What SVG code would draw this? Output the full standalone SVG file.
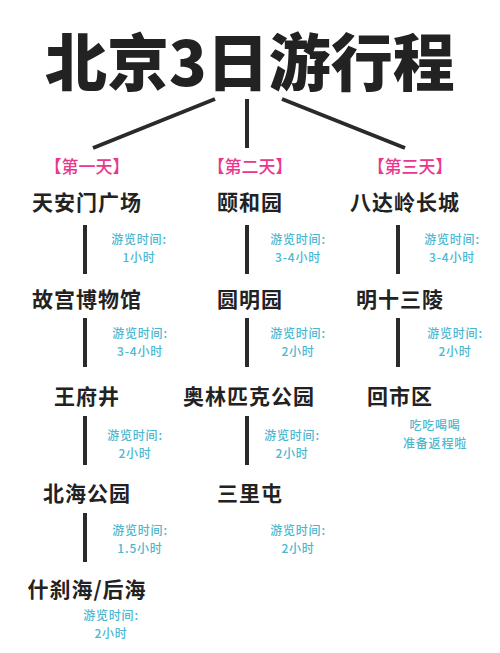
<svg xmlns="http://www.w3.org/2000/svg" width="500" height="653" viewBox="0 0 500 653">
<style>
text{font-family:"Noto Sans CJK SC","Noto Sans",sans-serif;text-anchor:middle;dominant-baseline:central}
.title{font-size:62px;font-weight:900;fill:#222}
.day{font-size:17px;fill:#e8378d;font-weight:500}
.node{font-size:21px;font-weight:700;fill:#222;letter-spacing:1px}
.t{font-size:12px;fill:#4cb8d0;font-weight:500;letter-spacing:0.8px}
.c line{stroke:#2a2a2a;stroke-width:4}
</style>
<rect width="500" height="653" fill="#fff"/>
<g id="title"><text class="title" x="250" y="59">北京3日游行程</text></g>
<g id="connectors" class="c">
<line x1="215" y1="99" x2="93" y2="148"/>
<line x1="247" y1="99" x2="247" y2="148"/>
<line x1="282" y1="99" x2="405" y2="148"/>
<line x1="85" y1="225" x2="85" y2="274"/>
<line x1="85" y1="318" x2="85" y2="367"/>
<line x1="85" y1="416" x2="85" y2="465"/>
<line x1="85" y1="513" x2="85" y2="562"/>
<line x1="247" y1="225" x2="247" y2="274"/>
<line x1="247" y1="318" x2="247" y2="367"/>
<line x1="247" y1="416" x2="247" y2="465"/>
<line x1="398" y1="225" x2="398" y2="274"/>
<line x1="398" y1="318" x2="398" y2="367"/>
</g>
<g id="day1"><text class="day" x="87" y="165">【第一天】</text></g>
<g id="day2"><text class="day" x="250" y="165">【第二天】</text></g>
<g id="day3"><text class="day" x="410" y="165">【第三天】</text></g>
<g id="n1"><text class="node" x="87" y="201">天安门广场</text></g>
<g id="t1"><text class="t" x="139" y="238">游览时间:</text><text class="t" x="139" y="256">1小时</text></g>
<g id="n2"><text class="node" x="87" y="298">故宫博物馆</text></g>
<g id="t2"><text class="t" x="140" y="332">游览时间:</text><text class="t" x="140" y="350">3-4小时</text></g>
<g id="n3"><text class="node" x="87" y="395">王府井</text></g>
<g id="t3"><text class="t" x="135" y="434">游览时间:</text><text class="t" x="135" y="452">2小时</text></g>
<g id="n4"><text class="node" x="87" y="492">北海公园</text></g>
<g id="t4"><text class="t" x="140" y="529">游览时间:</text><text class="t" x="140" y="547">1.5小时</text></g>
<g id="n5"><text class="node" x="87" y="588">什刹海/后海</text></g>
<g id="t5"><text class="t" x="111" y="614">游览时间:</text><text class="t" x="111" y="632">2小时</text></g>
<g id="n6"><text class="node" x="250" y="201">颐和园</text></g>
<g id="t6"><text class="t" x="298" y="238">游览时间:</text><text class="t" x="298" y="256">3-4小时</text></g>
<g id="n7"><text class="node" x="250" y="298">圆明园</text></g>
<g id="t7"><text class="t" x="298" y="332">游览时间:</text><text class="t" x="298" y="350">2小时</text></g>
<g id="n8"><text class="node" x="249" y="395">奥林匹克公园</text></g>
<g id="t8"><text class="t" x="292" y="434">游览时间:</text><text class="t" x="292" y="452">2小时</text></g>
<g id="n9"><text class="node" x="250" y="492">三里屯</text></g>
<g id="t9"><text class="t" x="298" y="529">游览时间:</text><text class="t" x="298" y="547">2小时</text></g>
<g id="n10"><text class="node" x="405" y="201">八达岭长城</text></g>
<g id="t10"><text class="t" x="452" y="238">游览时间:</text><text class="t" x="452" y="256">3-4小时</text></g>
<g id="n11"><text class="node" x="400" y="298">明十三陵</text></g>
<g id="t11"><text class="t" x="455" y="332">游览时间:</text><text class="t" x="455" y="350">2小时</text></g>
<g id="n12"><text class="node" x="400" y="395">回市区</text></g>
<g id="t12"><text class="t" x="435" y="424">吃吃喝喝</text><text class="t" x="435" y="442">准备返程啦</text></g>
</svg>
